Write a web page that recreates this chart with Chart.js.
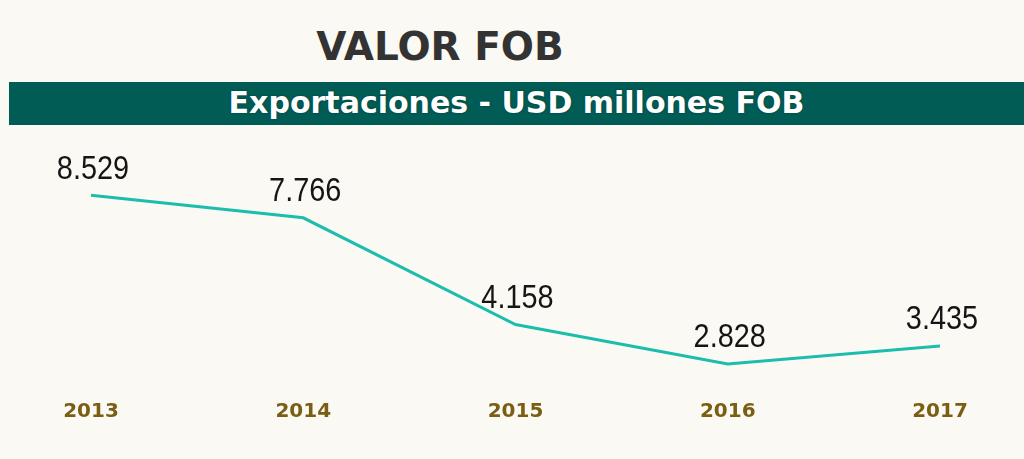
<!DOCTYPE html>
<html>
<head>
<meta charset="utf-8">
<script src="https://cdn.jsdelivr.net/npm/chart.js@4"></script>
<style>
  html, body { margin:0; padding:0; width:1024px; height:459px; overflow:hidden; background:#FBF9F3; }
  #title { position:absolute; left:0; top:24px; width:880px; text-align:center; font:bold 39px "DejaVu Sans", sans-serif; color:#333333; }
  #banner { position:absolute; left:9px; top:82px; width:1015px; height:43px; background:#005C55; }
  #banner span { position:absolute; left:0; width:100%; top:3px; text-align:center; font:bold 30px "DejaVu Sans", sans-serif; color:#ffffff; text-shadow:0 0 2px #003a36; }
  #wrap { position:absolute; left:0; top:125px; width:1024px; height:334px; }
</style>
</head>
<body>
<div id="title">VALOR FOB</div>
<div id="banner"><span>Exportaciones - USD millones FOB</span></div>
<div id="wrap"><canvas id="c"></canvas></div>
<script>
const years = ['2013', '2014', '2015', '2016', '2017'];
const valores = [8529, 7766, 4158, 2828, 3435];
const etiquetas = ['8.529', '7.766', '4.158', '2.828', '3.435'];

const labelPlugin = {
  id: 'valLabels',
  afterDatasetsDraw(chart) {
    const ctx = chart.ctx;
    const meta = chart.getDatasetMeta(0);
    const sx = 0.85;
    meta.data.forEach((pt, i) => {
      ctx.save();
      ctx.translate(pt.x + 2, pt.y - 26);
      ctx.scale(sx, 1);
      ctx.font = '34px "Liberation Sans", sans-serif';
      ctx.fillStyle = '#151515';
      ctx.textAlign = 'center';
      ctx.textBaseline = 'middle';
      ctx.fillText(etiquetas[i], 0, 0);
      ctx.restore();
    });
  }
};

new Chart(document.getElementById('c'), {
  type: 'line',
  data: {
    labels: years,
    datasets: [{
      data: valores,
      borderColor: '#1DBDAE',
      borderWidth: 3,
      pointRadius: 0,
      tension: 0,
      fill: false
    }]
  },
  options: {
    responsive: true,
    maintainAspectRatio: false,
    animation: false,
    layout: { padding: { left: 91, right: 84, top: 15, bottom: 30 } },
    plugins: { legend: { display: false }, tooltip: { enabled: false }, title: { display: false } },
    scales: {
      x: {
        offset: false,
        grid: { display: false },
        border: { display: false },
        ticks: { padding: 5, color: '#7A5E14', font: { family: 'DejaVu Sans', weight: 'bold', size: 20 } }
      },
      y: {
        display: false,
        min: 2048,
        max: 10395
      }
    }
  },
  plugins: [labelPlugin]
});
</script>
</body>
</html>
